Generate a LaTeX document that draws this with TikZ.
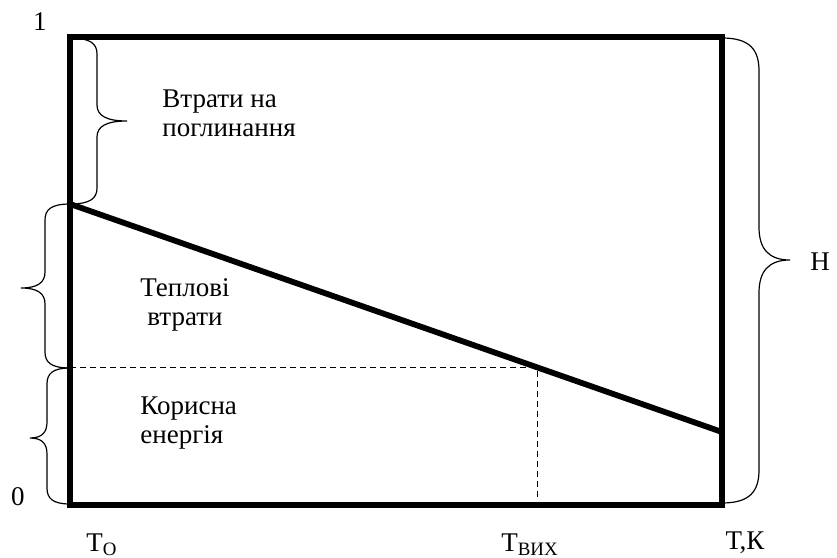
\documentclass[tikz,border=0pt]{standalone}
\usepackage{fontspec}
\setmainfont{Liberation Serif}
\usetikzlibrary{calc}

% vertical curly brace: x, ytop, ybot, ytip, reach, tip, bend
\newcommand{\curlyv}[7]{%
	\draw[brace] (#1,#2) .. controls (#1+0.75*#5,#2) and (#1+#5,#2-0.35*#7) .. (#1+#5,#2-#7)
		-- (#1+#5,#4+#7)
		.. controls (#1+#5,#4+0.35*#7) and (#1+#5+0.3*#6,#4) .. (#1+#5+#6,#4)
		.. controls (#1+#5+0.3*#6,#4) and (#1+#5,#4-0.35*#7) .. (#1+#5,#4-#7)
		-- (#1+#5,#3+#7)
		.. controls (#1+#5,#3+0.35*#7) and (#1+0.75*#5,#3) .. (#1,#3);}

\begin{document}
\begin{tikzpicture}[x=0.5pt,y=0.5pt,
	lbl/.style={inner sep=0pt,font=\fontsize{13.5}{14.5}\selectfont},
	frame/.style={line width=2.9pt},
	brace/.style={line width=0.6pt},
	guide/.style={line width=0.5pt,dash pattern=on 3pt off 2pt}]
	\useasboundingbox (0,0) rectangle (837,558);
	% corners of the box
	\coordinate (bl) at (70,53);
	\coordinate (tl) at (70,521);
	\coordinate (tr) at (722,521);
	\coordinate (br) at (722,53);
	\coordinate (hstart) at (70,354);
	\coordinate (hend) at (722,126);
	\coordinate (ustart) at (70,190);
	\coordinate (ucorner) at (537,190);
	\coordinate (ufoot) at (537,58);
	\draw[guide] (ustart) -- (ucorner) -- (ufoot);
	\draw[frame] (bl) rectangle (tr);
	\draw[frame] (hstart) -- (hend);
	% braces
	\curlyv{70}{520}{354}{437}{27}{30}{16}
	\curlyv{70}{354}{190}{270}{-25}{-24}{16}
	\curlyv{70}{190}{54}{120}{-23}{-17}{16}
	\curlyv{722}{520}{55}{298}{37}{31}{33}
	% labels
	\node[lbl] (one) at (40,536) {1};
	\node[lbl] (zero) at (18,61) {0};
	\node[lbl] (height) at (820,296) {Н};
	\node[lbl] (tzero) at (102,13) {Т\textsubscript{О}};
	\node[lbl] (tout) at (530,13) {Т\textsubscript{ВИХ}};
	\node[lbl] (taxis) at (745,15) {Т,К};
	\node[lbl,anchor=west,align=left] (absorb) at (162,445) {Втрати на\\поглинання};
	\node[lbl,align=center] (heat) at (185,253) {Теплові\\втрати};
	\node[lbl,anchor=west,align=left] (useful) at (140,135) {Корисна\\енергія};
\end{tikzpicture}
\end{document}
